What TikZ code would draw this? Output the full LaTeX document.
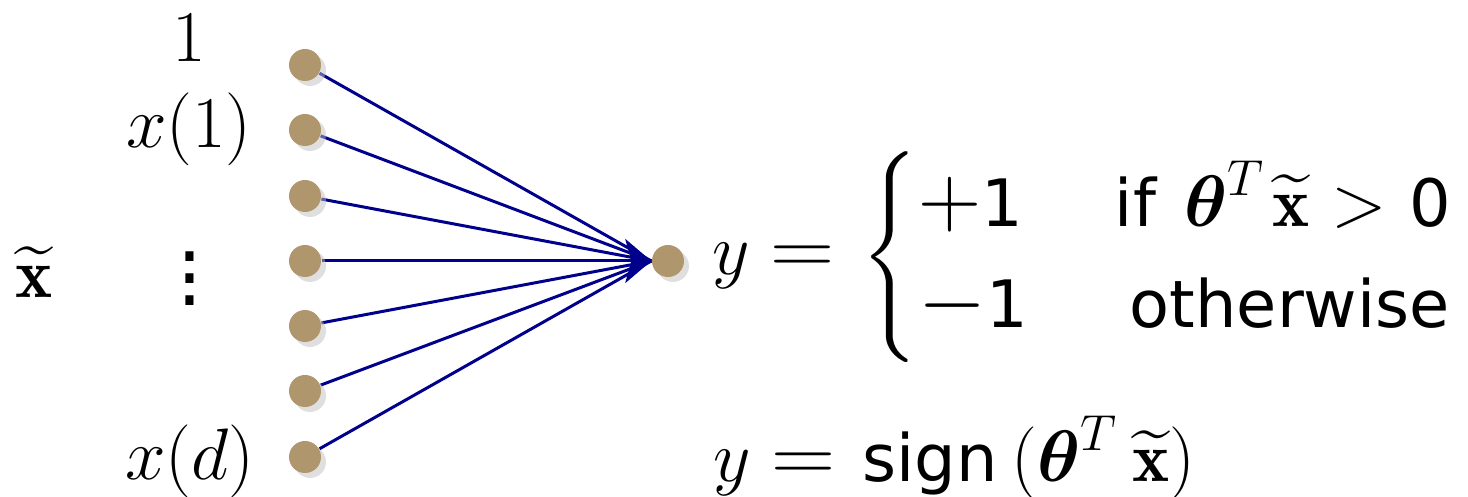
\documentclass[tikz,border=0pt]{standalone}
\usepackage{amsmath,amssymb}
\usepackage{graphicx}
\usepackage{fontspec}
\newfontfamily\dejavu{DejaVu Sans}[Scale=0.93]
\usepackage{pgf, tikz}
\usetikzlibrary{arrows.meta,shadows}
\pgfdeclarelayer{edgelayer}
\pgfdeclarelayer{nodelayer}
\pgfsetlayers{edgelayer,nodelayer,main}
\definecolor{dotbrown}{RGB}{176,150,108}
\definecolor{edgeblue}{RGB}{0,0,140}
\tikzstyle{edge}=[draw=edgeblue, line width=0.85pt]
\tikzstyle{vertex}=[circle, fill=dotbrown, inner sep=0pt, minimum size=3.2mm, drop shadow={shadow xshift=0.5mm, shadow yshift=-0.5mm, fill=black!25}]
\tikzstyle{lbl}=[anchor=base, inner sep=0pt, font=\fontsize{22}{26}\selectfont]
\tikzstyle{headarrow}=[-{Stealth[length=2.6mm, width=4.4mm, inset=0.6mm]}]
\newcommand{\sanstext}[1]{\text{\dejavu #1}}
\newcommand{\xtil}{\widetilde{\mathbf{x}}}
\newcommand{\bigeq}{\mathrel{\scalebox{1.22}[1.1]{$=$}}}
\newcommand{\bigplus}{\scalebox{1.2}[1.2]{$+$}}
\newcommand{\bigminus}{\scalebox{1.2}[1.2]{$-$}}

\begin{document}
\begin{tikzpicture}[font=\fontsize{20}{24}\selectfont]
				\useasboundingbox (0, 0) rectangle (14.68, 4.97);
				\begin{pgfonlayer}{nodelayer}
					\node [style=vertex] (0) at (3.05, 4.32) {};
					\node [style=vertex] (1) at (3.05, 3.67) {};
					\node [style=vertex] (2) at (3.05, 3.01) {};
					\node [style=vertex] (3) at (3.05, 2.36) {};
					\node [style=vertex] (4) at (3.05, 1.71) {};
					\node [style=vertex] (5) at (3.05, 1.06) {};
					\node [style=vertex] (6) at (3.05, 0.40) {};
					\node [style=vertex] (7) at (6.68, 2.36) {};
					\node [style=lbl] (l0) at (1.89, 4.35) {$1$};
					\node [style=lbl] (l1) at (1.89, 3.49) {$x(1)$};
					\node [inner sep=0pt, align=center, font=\dejavu\fontsize{24}{6.3}\selectfont] (ldots) at (1.90, 2.18) {.\\.\\.};
					\node [style=lbl] (ld) at (1.90, 0.17) {$x(d)$};
					\node [style=lbl, font=\fontsize{20}{24}\selectfont] (xt) at (0.34, 1.99) {$\xtil$};
					\node [anchor=base west, inner sep=0pt] (rule) at (7.12, 2.22) {$y \bigeq \hspace{0.1em}\begin{cases} \bigplus\sanstext{1} & \hspace{0.24em}\sanstext{if}\hspace{0.4em}\boldsymbol{\theta}^T\hspace{0.1em}\xtil \mathrel{\hspace{0.03em}>\hspace{0.03em}} \sanstext{0}\\ \bigminus\sanstext{1} & \hspace{0.45em}\sanstext{otherwise} \end{cases}$};
					\node [anchor=base west, inner sep=0pt] (sign) at (7.13, 0.15) {$y \bigeq \hspace{0.1em}\sanstext{sign}\hspace{0.2em}(\boldsymbol{\theta}^T\hspace{0.2em}\xtil)$};
				\end{pgfonlayer}
				\begin{pgfonlayer}{edgelayer}
					\draw [style=edge] (0) to (7.west);
					\draw [style=edge] (1) to (7.west);
					\draw [style=edge] (2) to (7.west);
					\draw [style=edge, style=headarrow] (3) to (7.west);
					\draw [style=edge] (4) to (7.west);
					\draw [style=edge] (5) to (7.west);
					\draw [style=edge] (6) to (7.west);
				\end{pgfonlayer}
			\end{tikzpicture}
\end{document}
